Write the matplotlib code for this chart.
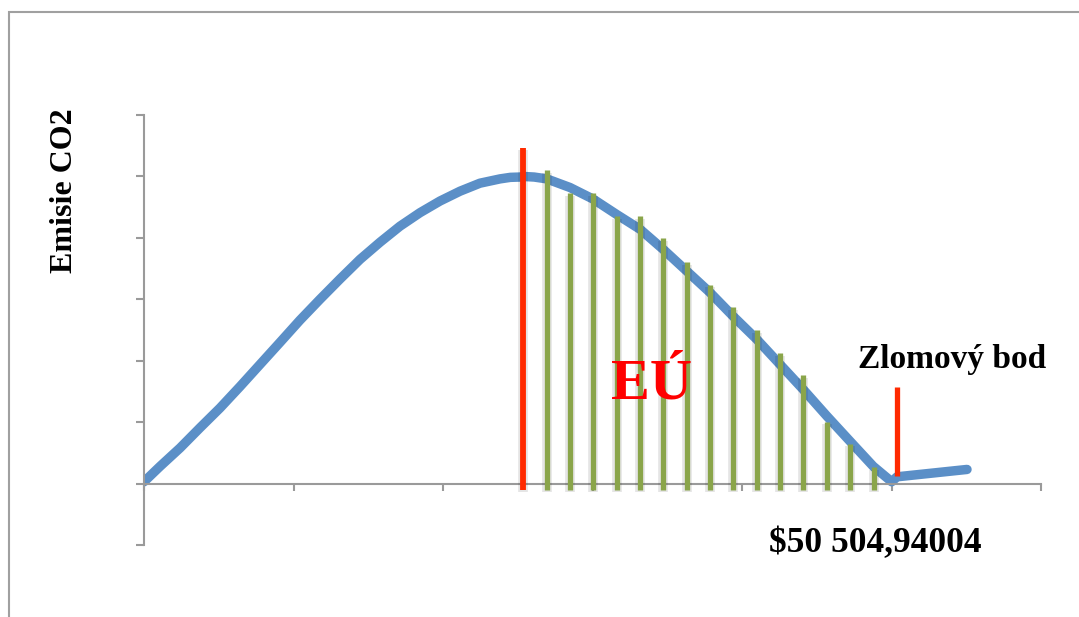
import matplotlib.pyplot as plt
import matplotlib.patheffects as pe
from matplotlib.patches import Rectangle

# emission curve (x in income units, y in emission units)
curve_x = [0.0, 0.107, 0.241, 0.375, 0.508, 0.642, 0.776, 0.910, 1.043, 1.177,
           1.311, 1.445, 1.579, 1.712, 1.846, 1.980, 2.114, 2.247, 2.381, 2.450,
           2.515, 2.537, 2.610, 2.694, 2.849, 3.005, 3.162, 3.318, 3.474, 3.630,
           3.786, 3.942, 4.098, 4.254, 4.410, 4.567, 4.722, 4.878, 5.001, 5.037,
           5.505]
curve_y = [0.03, 0.28, 0.58, 0.91, 1.23, 1.58, 1.94, 2.30, 2.66, 3.00,
           3.33, 3.65, 3.93, 4.19, 4.41, 4.60, 4.76, 4.89, 4.96, 4.985,
           4.99, 5.00, 4.99, 4.96, 4.82, 4.63, 4.38, 4.14, 3.81, 3.46,
           3.11, 2.72, 2.35, 1.94, 1.53, 1.10, 0.69, 0.28, 0.03, 0.11,
           0.23]

# green bars under the falling part
bar_x = [2.694, 2.850, 3.006, 3.162, 3.318, 3.474, 3.630, 3.786, 3.942, 4.098,
         4.254, 4.410, 4.566, 4.722, 4.884]
bar_top = [5.10, 4.73, 4.73, 4.35, 4.35, 3.99, 3.61, 3.24, 2.87, 2.50,
           2.13, 1.76, 1.01, 0.65, 0.27]

# red markers: EU position and the turning point
eu_x, eu_top = 2.532, 5.47
turn_x, turn_bottom, turn_top = 5.035, 0.12, 1.58

y_label = "Emisie CO2"
turn_label = "Zlomový bod"
turn_value = "$50 504,94004"
eu_label = "EÚ"

grey = "#9a9a9a"
blue = "#5b8fc7"
green = "#8aa54a"
red = "#ff2a00"

fig = plt.figure(figsize=(10.79, 6.17), dpi=100)
ax = fig.add_axes([0.1335, 0.1167, 0.8313, 0.6969])
ax.set_xlim(0, 6)
ax.set_ylim(-1, 6)

ax.plot(curve_x, curve_y, color=blue, lw=6.8, solid_capstyle="round",
        solid_joinstyle="round", zorder=2)

glow = [pe.SimpleLineShadow(offset=(0, -2), shadow_color="k", alpha=0.10,
                            linewidth=7),
        pe.Normal()]
ax.vlines(bar_x, -0.1, bar_top, color=green, lw=3.8, zorder=3,
          path_effects=glow)
ax.vlines([eu_x], -0.1, [eu_top], color=red, lw=4.2, zorder=4,
          path_effects=glow)
ax.vlines([turn_x], turn_bottom, turn_top, color=red, lw=3.8, zorder=4)

serif = "Liberation Serif"
ax.text(3.398, 1.61, eu_label, color="#ff0000", fontsize=42, fontweight="bold",
        family=serif, ha="center", va="center", zorder=5)
ax.text(5.405, 2.02, turn_label, color="black", fontsize=24, fontweight="bold",
        family=serif, ha="center", va="center")
ax.text(4.893, -0.98, turn_value, color="black", fontsize=25.5, fontweight="bold",
        family=serif, ha="center", va="center")
fig.text(64 / 1079, 1 - 191 / 617, y_label, rotation=90, fontsize=23,
         fontweight="bold", family=serif, ha="center", va="center")

# axes: left spine plus x axis through zero
for s in ["top", "right"]:
    ax.spines[s].set_visible(False)
ax.spines["left"].set_color(grey)
ax.spines["left"].set_linewidth(1.5)
ax.spines["bottom"].set_position(("data", 0))
ax.spines["bottom"].set_color(grey)
ax.spines["bottom"].set_linewidth(1.5)
ax.set_xticks(range(0, 7))
ax.set_yticks(range(-1, 7))
ax.tick_params(axis="x", direction="out", length=5, width=1.5, color=grey,
               labelbottom=False)
ax.tick_params(axis="y", direction="out", length=6, width=1.5, color=grey,
               labelleft=False)

# outer frame
fig.add_artist(Rectangle((9 / 1079, -0.2), 1.2, 1.2 - 12 / 617, fill=False,
                         ec="#a0a0a0", lw=1.5, transform=fig.transFigure))

fig.savefig("out.png", dpi=100)
